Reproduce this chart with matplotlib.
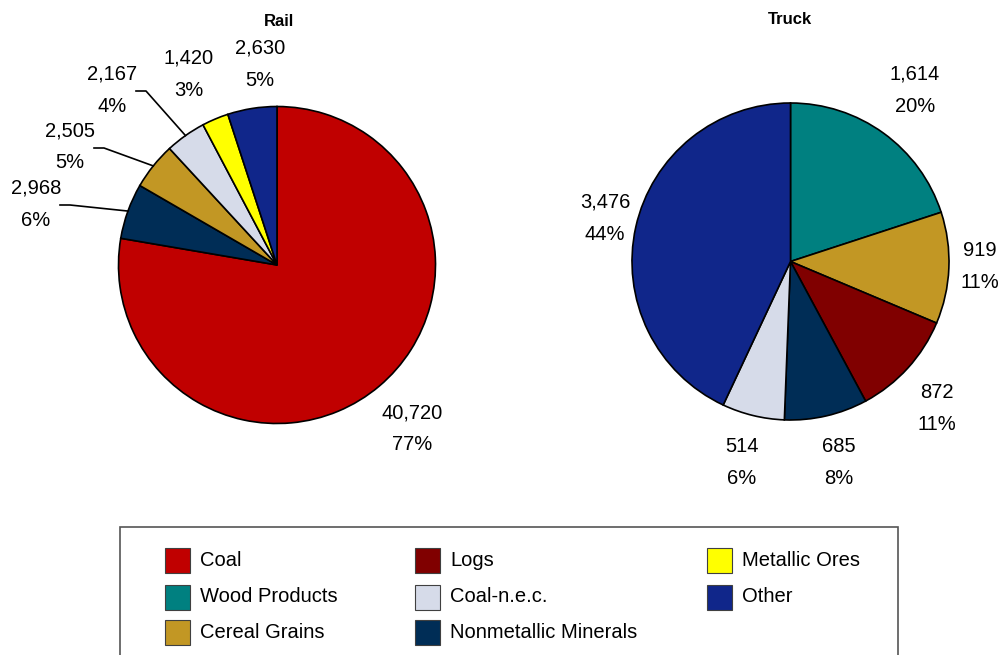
import numpy as np
import matplotlib
matplotlib.use('Agg')
import matplotlib.pyplot as plt
from matplotlib.patches import Rectangle

plt.rcParams['font.family'] = ['Liberation Sans Narrow', 'Liberation Sans', 'DejaVu Sans']

# data
rail_labels = ['Coal', 'Nonmetallic Minerals', 'Cereal Grains', 'Coal-n.e.c.', 'Metallic Ores', 'Other']
rail_values = [40720, 2968, 2505, 2167, 1420, 2630]
rail_pcts = ['77%', '6%', '5%', '4%', '3%', '5%']

truck_labels = ['Wood Products', 'Cereal Grains', 'Logs', 'Nonmetallic Minerals', 'Coal-n.e.c.', 'Other']
truck_values = [1614, 919, 872, 685, 514, 3476]
truck_pcts = ['20%', '11%', '11%', '8%', '6%', '44%']

legend_order = ['Coal', 'Wood Products', 'Cereal Grains', 'Logs', 'Coal-n.e.c.',
                'Nonmetallic Minerals', 'Metallic Ores', 'Other']

colors = {
    'Coal': '#C00000',
    'Wood Products': '#008080',
    'Cereal Grains': '#C29724',
    'Logs': '#800000',
    'Coal-n.e.c.': '#D6DBE9',
    'Nonmetallic Minerals': '#002D56',
    'Metallic Ores': '#FFFF00',
    'Other': '#10268A',
}

W, H = 999, 655
fig = plt.figure(figsize=(W / 100, H / 100), dpi=100)
ax = fig.add_axes([0, 0, 1, 1])


def Y(y):
    # pixel-from-top to data y
    return H - y


R = 158.5
wp = dict(edgecolor='black', linewidth=1.2)

rail_wedges, _ = ax.pie(rail_values, colors=[colors[l] for l in rail_labels], startangle=90,
                        counterclock=False, center=(277, Y(265)), radius=R, wedgeprops=wp)
truck_wedges, _ = ax.pie(truck_values, colors=[colors[l] for l in truck_labels], startangle=90,
                         counterclock=False, center=(790.5, Y(261.5)), radius=R, wedgeprops=wp)

ax.set_xlim(0, W)
ax.set_ylim(0, H)
ax.set_aspect('auto')
ax.axis('off')

ax.text(279, Y(22), 'Rail', ha='center', va='center', fontsize=12, fontweight='bold',
        family=['Liberation Sans', 'DejaVu Sans'])
ax.text(790, Y(20), 'Truck', ha='center', va='center', fontsize=12, fontweight='bold',
        family=['Liberation Sans', 'DejaVu Sans'])

# label anchors (pixels from top)
rail_label_xy = [(412, 429), (36, 204), (70, 147), (112, 90), (189, 74), (260, 64)]
truck_label_xy = [(915, 90), (980, 266), (937, 408), (839, 463), (742, 463), (605, 218)]
rail_leader = [False, True, True, True, False, False]

fs = 14.5
for vals, pcts, xy in [(rail_values, rail_pcts, rail_label_xy), (truck_values, truck_pcts, truck_label_xy)]:
    for v, p, (lx, ly) in zip(vals, pcts, xy):
        ax.text(lx, Y(ly - 16), f'{v:,}', ha='center', va='center', fontsize=fs)
        ax.text(lx, Y(ly + 16), p, ha='center', va='center', fontsize=fs)

# leader lines for small rail slices
cx, cy = 277, Y(265)
for w, lead, (lx, ly) in zip(rail_wedges, rail_leader, rail_label_xy):
    if not lead:
        continue
    mid = np.deg2rad((w.theta1 + w.theta2) / 2)
    ex, ey = cx + R * np.cos(mid), cy + R * np.sin(mid)
    ax.plot([lx + 24, lx + 34, ex], [Y(ly + 1), Y(ly + 1), ey], color='black', lw=1.2)

# legend box
ax.add_patch(Rectangle((120, Y(720)), 778, 720 - 527, facecolor='white',
                       edgecolor='#555555', lw=1.2))
col_x = [165, 415, 707]
row_y = [560, 597, 632]
sq = 25
for i, name in enumerate(legend_order):
    c, r = divmod(i, 3)
    x0, y0 = col_x[c], row_y[r]
    ax.add_patch(Rectangle((x0, Y(y0 + sq / 2)), sq, sq, facecolor=colors[name],
                           edgecolor='#404040', lw=0.8))
    ax.text(x0 + 35, Y(y0), name, ha='left', va='center', fontsize=fs)

fig.savefig('out.png', dpi=100)
